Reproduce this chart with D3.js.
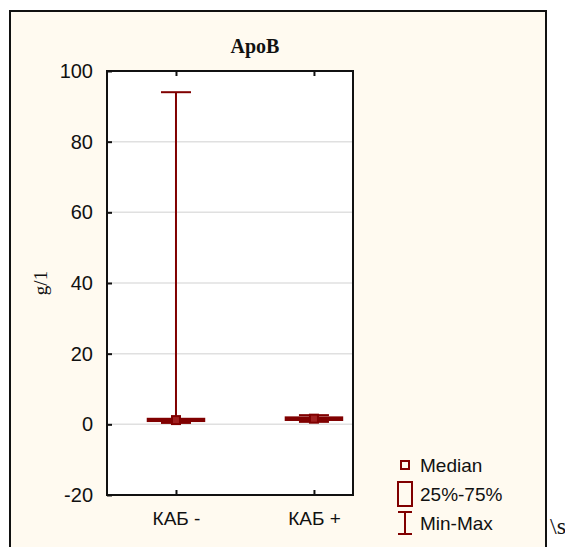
<!DOCTYPE html>
<html>
<head>
<meta charset="utf-8">
<script src="https://cdn.jsdelivr.net/npm/d3@7"></script>
<style>
body { margin: 0; background: #fff; }
svg { display: block; }
</style>
</head>
<body>
<svg id="viz"></svg>
<script>
var width = 565;
var height = 547;

// data
var categories = ["КАБ -", "КАБ +"];
var minVals = [0.4, 0.7];
var q1Vals = [1.0, 1.3];
var medianVals = [1.2, 1.6];
var q3Vals = [1.5, 1.9];
var maxVals = [94, 2.6];
var yTicks = [-20, 0, 20, 40, 60, 80, 100];
var legendLabels = ["Median", "25%-75%", "Min-Max"];

var red = "#800000";

var svg = d3.select("#viz")
    .attr("width", width)
    .attr("height", height);

// outer frame
svg.append("rect")
    .attr("x", 10).attr("y", 11)
    .attr("width", 536).attr("height", 540)
    .attr("fill", "#fffaf0")
    .attr("stroke", "#111")
    .attr("stroke-width", 2);

var plot = { left: 107, top: 71, right: 353, bottom: 495 };

var x = d3.scaleLinear()
    .domain([0.5, 2.283])
    .range([plot.left, plot.right]);

var y = d3.scaleLinear()
    .domain([-20, 100])
    .range([plot.bottom, plot.top]);

svg.append("rect")
    .attr("x", plot.left).attr("y", plot.top)
    .attr("width", plot.right - plot.left)
    .attr("height", plot.bottom - plot.top)
    .attr("fill", "#fff");

// gridlines
svg.selectAll(".grid")
    .data(yTicks.filter(function(d) { return d > -20 && d < 100; }))
    .enter().append("line")
    .attr("x1", plot.left).attr("x2", plot.right)
    .attr("y1", function(d) { return y(d); })
    .attr("y2", function(d) { return y(d); })
    .attr("stroke", "#e0e0e0")
    .attr("stroke-width", 1.5);

// y axis
var yAxis = d3.axisLeft(y)
    .tickValues(yTicks)
    .tickSize(-5)
    .tickPadding(14)
    .tickFormat(function(d) { return String(d); });

svg.append("g")
    .attr("transform", "translate(" + plot.left + ",0)")
    .call(yAxis)
    .call(function(g) {
        g.select(".domain").remove();
        g.selectAll("line").attr("stroke", "#111").attr("stroke-width", 2);
        g.selectAll("text")
            .attr("font-family", "Liberation Sans, Arial, sans-serif")
            .attr("font-size", 20)
            .attr("fill", "#111");
    });

// x axis (bottom and top ticks pointing inward)
var pos = categories.map(function(d, i) { return i + 1; });

var xAxis = d3.axisBottom(x)
    .tickValues(pos)
    .tickSize(-5)
    .tickPadding(17)
    .tickFormat(function(d) { return categories[d - 1]; });

svg.append("g")
    .attr("transform", "translate(0," + plot.bottom + ")")
    .call(xAxis)
    .call(function(g) {
        g.select(".domain").remove();
        g.selectAll("line").attr("stroke", "#111").attr("stroke-width", 2);
        g.selectAll("text")
            .attr("font-family", "Liberation Sans, Arial, sans-serif")
            .attr("font-size", 19)
            .attr("fill", "#111");
    });

svg.append("g")
    .attr("transform", "translate(0," + plot.top + ")")
    .call(d3.axisTop(x).tickValues(pos).tickSize(-5).tickFormat(""))
    .call(function(g) {
        g.select(".domain").remove();
        g.selectAll("line").attr("stroke", "#111").attr("stroke-width", 2);
    });

// plot border
svg.append("rect")
    .attr("x", plot.left).attr("y", plot.top)
    .attr("width", plot.right - plot.left)
    .attr("height", plot.bottom - plot.top)
    .attr("fill", "none")
    .attr("stroke", "#111")
    .attr("stroke-width", 2);

// boxes
var capW = 15, boxW = 28, medW = 4;
var groups = svg.selectAll(".box")
    .data(categories)
    .enter().append("g");

groups.each(function(d, i) {
    var g = d3.select(this);
    var cx = x(pos[i]);
    g.append("line")
        .attr("x1", cx).attr("x2", cx)
        .attr("y1", y(minVals[i])).attr("y2", y(maxVals[i]))
        .attr("stroke", red).attr("stroke-width", 2);
    [minVals[i], maxVals[i]].forEach(function(v) {
        g.append("line")
            .attr("x1", cx - capW).attr("x2", cx + capW)
            .attr("y1", y(v)).attr("y2", y(v))
            .attr("stroke", red).attr("stroke-width", 2);
    });
    g.append("rect")
        .attr("x", cx - boxW)
        .attr("y", y(q3Vals[i]))
        .attr("width", boxW * 2)
        .attr("height", y(q1Vals[i]) - y(q3Vals[i]))
        .attr("fill", "none")
        .attr("stroke", red).attr("stroke-width", 2.5);
    g.append("rect")
        .attr("x", cx - medW)
        .attr("y", y(medianVals[i]) - medW)
        .attr("width", medW * 2)
        .attr("height", medW * 2)
        .attr("fill", "#a02020")
        .attr("stroke", red).attr("stroke-width", 2);
});

// title and y label
svg.append("text")
    .attr("x", 255).attr("y", 53)
    .attr("text-anchor", "middle")
    .attr("font-family", "Liberation Serif, Times New Roman, serif")
    .attr("font-weight", "bold")
    .attr("font-size", 20)
    .attr("fill", "#111")
    .text("ApoB");

svg.append("text")
    .attr("transform", "translate(47,283) rotate(-90)")
    .attr("text-anchor", "middle")
    .attr("font-family", "Liberation Serif, Times New Roman, serif")
    .attr("font-size", 19)
    .attr("fill", "#111")
    .text("g/1");

// legend
var legend = svg.append("g");
var lx = 405;
legend.append("rect")
    .attr("x", lx - 4).attr("y", 461).attr("width", 8).attr("height", 8)
    .attr("fill", "#fffaf0").attr("stroke", red).attr("stroke-width", 2);
legend.append("rect")
    .attr("x", lx - 7).attr("y", 482).attr("width", 14).attr("height", 24)
    .attr("fill", "none").attr("stroke", red).attr("stroke-width", 2);
legend.append("line")
    .attr("x1", lx).attr("x2", lx).attr("y1", 512).attr("y2", 534)
    .attr("stroke", red).attr("stroke-width", 2);
[512, 534].forEach(function(v) {
    legend.append("line")
        .attr("x1", lx - 7).attr("x2", lx + 7).attr("y1", v).attr("y2", v)
        .attr("stroke", red).attr("stroke-width", 2);
});
legend.selectAll(".lt")
    .data(legendLabels)
    .enter().append("text")
    .attr("x", 420)
    .attr("y", function(d, i) { return 472 + i * 29; })
    .attr("font-family", "Liberation Sans, Arial, sans-serif")
    .attr("font-size", 19)
    .attr("fill", "#111")
    .text(function(d) { return d; });

svg.append("text")
    .attr("x", 550).attr("y", 534)
    .attr("font-family", "Liberation Serif, Times New Roman, serif")
    .attr("font-size", 24)
    .attr("fill", "#111")
    .text("\\s");
</script>
</body>
</html>
